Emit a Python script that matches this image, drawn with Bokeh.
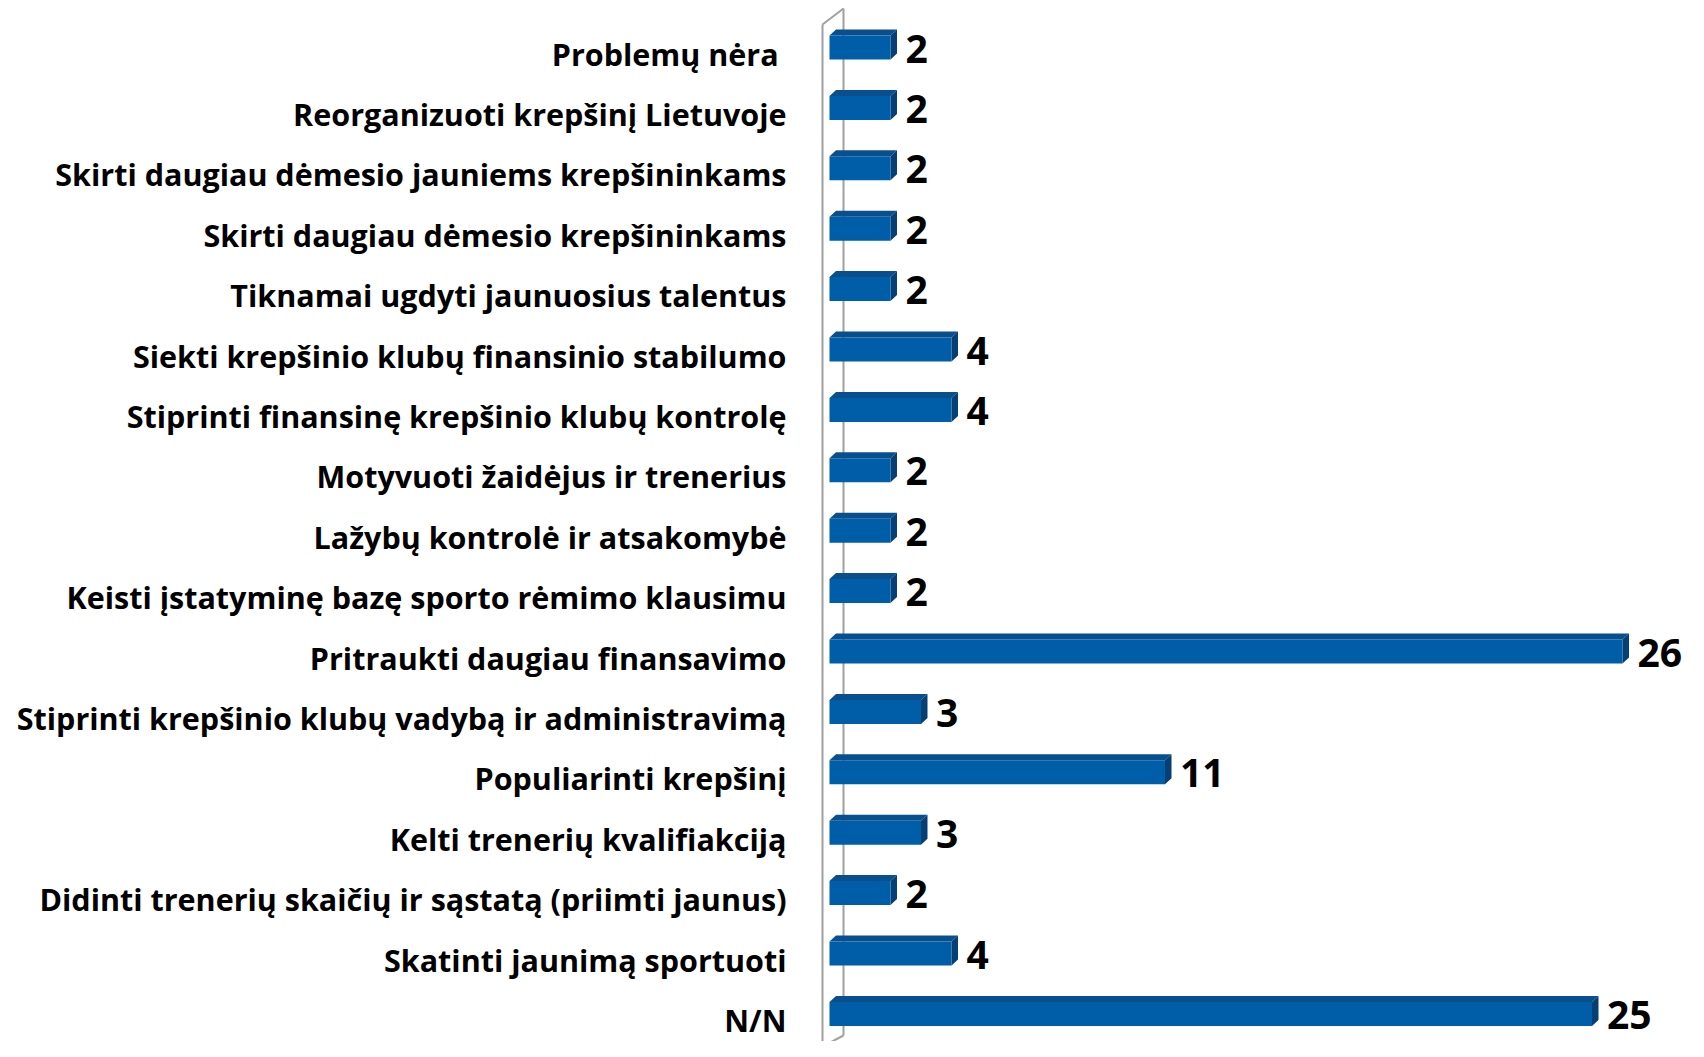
from bokeh.plotting import figure
from bokeh.models import ColumnDataSource, Range1d
from bokeh.core.properties import value
from bokeh.embed import file_html
from bokeh.resources import INLINE

categories = [
    "Problemų nėra ",
    "Reorganizuoti krepšinį Lietuvoje",
    "Skirti daugiau dėmesio jauniems krepšininkams",
    "Skirti daugiau dėmesio krepšininkams",
    "Tiknamai ugdyti jaunuosius talentus",
    "Siekti krepšinio klubų finansinio stabilumo",
    "Stiprinti finansinę krepšinio klubų kontrolę",
    "Motyvuoti žaidėjus ir trenerius",
    "Lažybų kontrolė ir atsakomybė",
    "Keisti įstatyminę bazę sporto rėmimo klausimu",
    "Pritraukti daugiau finansavimo",
    "Stiprinti krepšinio klubų vadybą ir administravimą",
    "Populiarinti krepšinį",
    "Kelti trenerių kvalifiakciją",
    "Didinti trenerių skaičių ir sąstatą (priimti jaunus)",
    "Skatinti jaunimą sportuoti",
    "N/N",
]
values = [2, 2, 2, 2, 2, 4, 4, 2, 2, 2, 26, 3, 11, 3, 2, 4, 25]

W, H = 1688, 1041
X0 = 829        # pixel of value 0
Y0 = 47         # pixel of first category centre
PX_X = 30.5     # px per unit along x
PX_Y = 60.4     # px per category
bar_h = 24 / PX_Y
dx = 6.5 / PX_X
dy = 6.0 / PX_Y
val_off = 15 / PX_X
cat_x = -(X0 - 786) / PX_X

n = len(categories)
ys = list(range(n))

front = ColumnDataSource(dict(y=ys, right=values))

top_xs, top_ys, side_xs, side_ys = [], [], [], []
for i, v in zip(ys, values):
    t = i - bar_h / 2
    b = i + bar_h / 2
    top_xs.append([0, dx, v + dx, v])
    top_ys.append([t, t - dy, t - dy, t])
    side_xs.append([v, v + dx, v + dx, v])
    side_ys.append([t, t - dy, b - dy, b])

def px_y(py):
    return (py - Y0) / PX_Y

def px_x(px):
    return (px - X0) / PX_X

p = figure(
    width=W, height=H,
    x_range=Range1d(px_x(0), px_x(W)),
    y_range=Range1d(px_y(H), px_y(0)),
    x_axis_location=None, y_axis_location=None,
    output_backend="svg", toolbar_location=None,
    min_border=0,
)
p.outline_line_color = None
p.xgrid.visible = False
p.ygrid.visible = False
p.background_fill_color = "white"

# 3D wall
wall_col = "#a0a0a0"
wf, wb = px_x(822), px_x(843)
p.line([wf, wf], [px_y(24), px_y(1080)], line_color=wall_col, line_width=2)
p.line([wb, wb], [px_y(8), px_y(1035)], line_color=wall_col, line_width=2)
p.line([wf, wb], [px_y(24), px_y(8)], line_color=wall_col, line_width=2)
p.line([wf, wb], [px_y(1046), px_y(1035)], line_color=wall_col, line_width=2)

# bars
p.patches(top_xs, top_ys, fill_color="#0a4f8d", line_color=None)
p.patches(side_xs, side_ys, fill_color="#063f73", line_color=None)
p.hbar(y="y", left=0, right="right", height=bar_h, source=front,
       fill_color="#005ea8", line_color=None)

lab = ColumnDataSource(dict(x=[v + val_off for v in values], y=ys,
                            t=[str(v) for v in values]))
p.text(x="x", y="y", text="t", source=lab, text_font=value("Open Sans"),
       text_font_style="bold", text_font_size="39px", text_color="black",
       text_baseline="middle", text_align="left", y_offset=1)

cats = ColumnDataSource(dict(x=[cat_x] * n, y=ys, t=categories))
p.text(x="x", y="y", text="t", source=cats, text_font=value("Open Sans"),
       text_font_style="bold", text_font_size="30.5px", text_color="black",
       text_baseline="middle", text_align="right", y_offset=6)

open("out.html", "w").write(file_html(p, INLINE))
